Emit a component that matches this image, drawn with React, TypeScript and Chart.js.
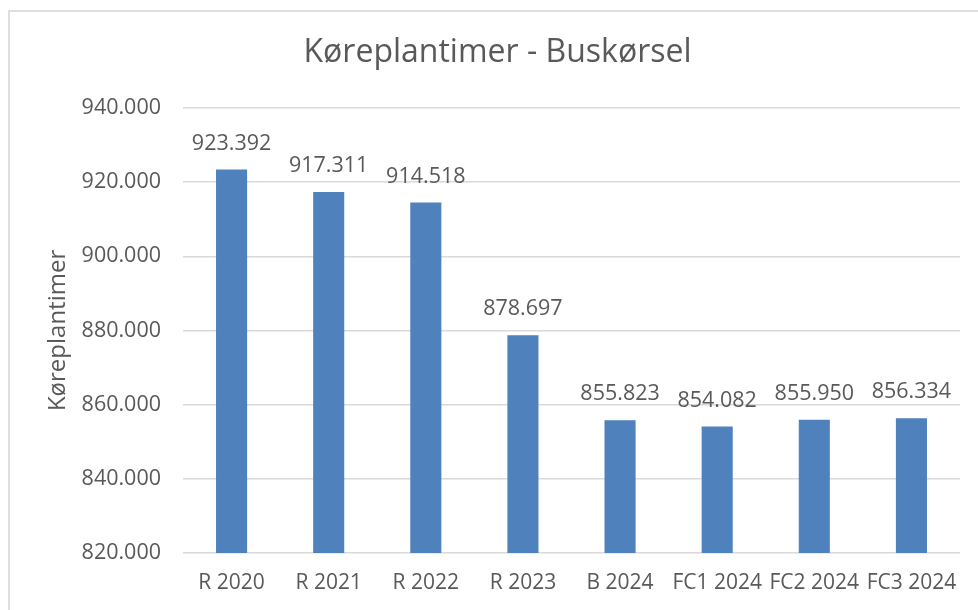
import React, { useEffect, useRef } from "react";
import { Chart, registerables } from "chart.js";

Chart.register(...registerables);

const categories = ["R 2020", "R 2021", "R 2022", "R 2023", "B 2024", "FC1 2024", "FC2 2024", "FC3 2024"];
const values = [923392, 917311, 914518, 878697, 855823, 854082, 855950, 856334];
const yMin = 820000;
const yMax = 940000;
const yStep = 20000;
const titleText = "Køreplantimer - Buskørsel";
const yAxisTitle = "Køreplantimer";

const FONT = "'Open Sans'";
const TEXT = "#595959";

function fmt(v: number): string {
  const s = Math.round(v).toString();
  return s.replace(/\B(?=(\d{3})+(?!\d))/g, ".");
}

const labelPlugin = {
  id: "barLabels",
  afterDatasetsDraw(chart: any) {
    const ctx = chart.ctx;
    const meta = chart.getDatasetMeta(0);
    ctx.save();
    ctx.font = `21.5px ${FONT}`;
    ctx.fillStyle = TEXT;
    ctx.textAlign = "center";
    ctx.textBaseline = "middle";
    meta.data.forEach((el: any, i: number) => {
      ctx.fillText(fmt(values[i]), el.x, el.y - 26);
    });
    ctx.restore();
  },
};

export default function App() {
  const ref = useRef<HTMLCanvasElement>(null);
  useEffect(() => {
    if (!ref.current) return;
    const chart = new Chart(ref.current, {
      type: "bar",
      data: {
        labels: categories,
        datasets: [
          {
            data: values,
            backgroundColor: "#4F81BD",
            barPercentage: 0.32,
            categoryPercentage: 1,
          },
        ],
      },
      plugins: [labelPlugin],
      options: {
        animation: false,
        responsive: false,
        devicePixelRatio: 1,
        layout: { padding: { left: 0, right: 0, top: 0, bottom: 0 } },
        plugins: {
          legend: { display: false },
          tooltip: { enabled: false },
          title: {
            display: true,
            text: titleText,
            color: TEXT,
            font: { family: FONT, size: 32, weight: "normal" },
            padding: { top: 21.5, bottom: 36 },
          },
        },
        scales: {
          x: {
            grid: { display: false, drawTicks: false },
            border: { display: false },
            ticks: { color: TEXT, font: { family: FONT, size: 21 }, padding: 17, maxRotation: 0, autoSkip: false },
            afterFit: (s: any) => {
              s.height = 57;
            },
          },
          y: {
            min: yMin,
            max: yMax,
            grid: { color: "#d9d9d9", lineWidth: 1.5, drawTicks: false },
            border: { display: false },
            ticks: {
              stepSize: yStep,
              color: TEXT,
              font: { family: FONT, size: 21.5 },
              padding: 22,
              callback: (v: any) => fmt(Number(v)),
            },
            title: {
              display: true,
              text: yAxisTitle,
              color: TEXT,
              font: { family: FONT, size: 24 },
              padding: { top: 34, bottom: 0 },
            },
            afterFit: (s: any) => {
              s.width = 173;
            },
          },
          yRight: {
            position: "right",
            min: yMin,
            max: yMax,
            grid: { display: false, drawTicks: false },
            border: { display: false },
            ticks: { display: false },
            afterFit: (s: any) => {
              s.width = 25;
            },
          },
        },
      },
    } as any);
    return () => chart.destroy();
  }, []);
  return (
    <div style={{ position: "fixed", inset: 0, overflow: "hidden", background: "#fff" }}>
      <div
        style={{
          position: "absolute",
          left: 8,
          top: 10,
          width: 1000,
          height: 700,
          border: "2px solid #dedede",
          boxSizing: "border-box",
        }}
      >
        <canvas ref={ref} width={975} height={598} style={{ display: "block", width: 975, height: 598 }} />
      </div>
    </div>
  );
}
